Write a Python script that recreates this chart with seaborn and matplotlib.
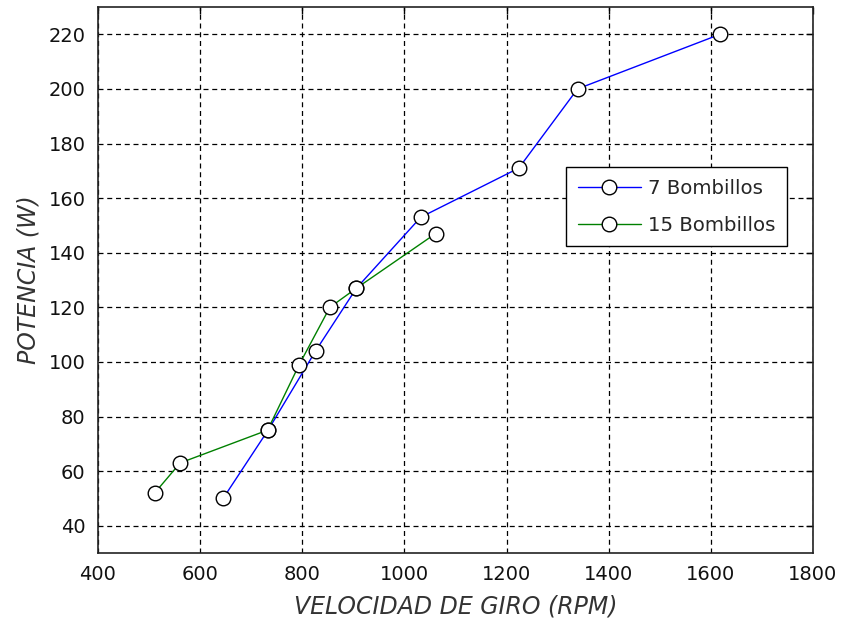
import matplotlib
matplotlib.use("Agg")
import matplotlib.pyplot as plt
import seaborn as sns
import pandas as pd

# Data
rpm_7 = [645, 733, 826, 906, 1032, 1224, 1339, 1618]
pot_7 = [50, 75, 104, 127, 153, 171, 200, 220]
rpm_15 = [511, 561, 732, 794, 854, 906, 1061]
pot_15 = [52, 63, 75, 99, 120, 127, 147]
series_names = ["7 Bombillos", "15 Bombillos"]
x_ticks = [400, 600, 800, 1000, 1200, 1400, 1600, 1800]
y_ticks = [40, 60, 80, 100, 120, 140, 160, 180, 200, 220]
x_label = "VELOCIDAD DE GIRO (RPM)"
y_label = "POTENCIA (W)"

df = pd.concat([
    pd.DataFrame({"rpm": rpm_7, "pot": pot_7, "serie": series_names[0]}),
    pd.DataFrame({"rpm": rpm_15, "pot": pot_15, "serie": series_names[1]}),
], ignore_index=True)

sns.set_style("white")
plt.rcParams["font.family"] = ["DejaVu Sans"]

fig = plt.figure(figsize=(8.43, 6.23), dpi=100)
ax = fig.add_axes([98 / 843, 70 / 623, 715 / 843, 546 / 623])

palette = {series_names[0]: "#0000ff", series_names[1]: "#008000"}
sns.lineplot(data=df, x="rpm", y="pot", hue="serie", palette=palette,
             sort=False, estimator=None, marker="o", markersize=10.5,
             markerfacecolor="white", markeredgecolor="black",
             markeredgewidth=1.0, linewidth=1.0, ax=ax)

ax.set_xlim(400, 1800)
ax.set_ylim(30, 230)
ax.set_xticks(x_ticks)
ax.set_yticks(y_ticks)
ax.tick_params(axis="both", direction="in", length=5, width=1, colors="black",
               labelsize=14, labelcolor="#111111", top=True, right=True,
               pad=9)
ax.grid(True, color="black", linestyle=(0, (4, 3)), linewidth=0.9)
for s in ax.spines.values():
    s.set_visible(True)
    s.set_color("#222222")
    s.set_linewidth(1.2)

ax.set_xlabel(x_label, fontsize=17, style="italic", color="#333333", labelpad=7)
ax.set_ylabel(y_label, fontsize=17, style="italic", color="#333333", labelpad=6)

leg = ax.legend(loc="upper left", bbox_to_anchor=(0.6545, 0.707),
                borderaxespad=0, fontsize=14.2, fancybox=False,
                framealpha=1, edgecolor="black", handlelength=3.2,
                handletextpad=0.35, labelspacing=0.9, borderpad=0.6)
leg.get_frame().set_linewidth(1.0)
for h in leg.legend_handles:
    h.set_markerfacecolor("white")
    h.set_markeredgecolor("black")

fig.savefig("out.png", dpi=100)
